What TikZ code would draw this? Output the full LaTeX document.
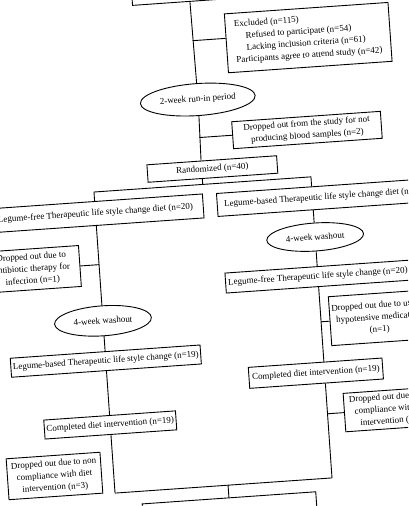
\documentclass[tikz,border=0pt]{standalone}
\usepackage{fontspec}
\setmainfont{Liberation Serif}
\usetikzlibrary{shapes.geometric}

\begin{document}
\begin{tikzpicture}[
      x=1pt, y=1pt,
      box/.style={draw, line width=0.9pt, align=center, inner sep=2pt,
                  font=\fontsize{9}{12}\selectfont},
      oval/.style={box, ellipse, inner sep=0pt, minimum width=97pt, minimum height=30pt},
      drop/.style={box, minimum width=96pt, minimum height=41pt},
      ln/.style={line width=0.9pt}]
    \useasboundingbox (-204,-253) rectangle (204,253);
    \clip (-204,-253) rectangle (204,253);
    \begin{scope}[rotate=4, transform shape]
    % columns (main x=3.5, left x=-105.5, right x=112)
    \coordinate (m) at (3.5,0);
    \coordinate (sp) at (3.5,68.5);
    \coordinate (rleg) at (112,68.5);
    \coordinate (j1) at (3.5,212.6);
    \coordinate (lb) at (-105.5,-233.3);
    \coordinate (rb) at (112,-233.3);
    \coordinate (mb) at (7.8,-233.3);
    % enrolment
    \node[box, minimum width=134pt, minimum height=20pt] (assess) at (13,262) {};
    \node[box, align=left, minimum width=164pt, minimum height=59pt, inner xsep=8pt] (excl) at (119,207.6)
      {Excluded (n=115)\\\hspace*{11pt}Refused to participate (n=54)\\
       \hspace*{11pt}Lacking inclusion criteria (n=61)\\Participants agree to attend study (n=42)};
    \node[oval, minimum width=115pt, minimum height=32pt] (runin) at (4.5,153.5) {2-week run-in period};
    \node[box, minimum width=149pt, minimum height=27pt] (drop1) at (111.3,115.5)
      {Dropped out from the study for not\\producing blood samples (n=2)};
    \node[box, minimum width=130pt, minimum height=17.5pt] (rand) at (14.2,83.2) {Randomized (n=40)};
    % first period
    \node[box, minimum width=216pt, minimum height=24pt] (lfree) at (-105.5,47) {Legume-free Therapeutic life style change diet (n=20)};
    \node[box, minimum width=216pt, minimum height=23pt] (lbased) at (124.6,47) {Legume-based Therapeutic life style change diet (n=20)};
    \node[drop] (drop2) at (-172.7,-4.3) {Dropped out due to\\antibiotic therapy for\\infection (n=1)};
    \node[oval] (wash1) at (-105.5,-60.6) {4-week washout};
    \node[oval, minimum height=28pt] (wash2) at (112,8.2) {4-week washout};
    % second period
    \node[box, minimum width=187pt, minimum height=19pt] (lbased2) at (-105.5,-101) {Legume-based Therapeutic life style change (n=19)};
    \node[box, minimum width=185pt, minimum height=20pt] (rfree) at (112,-31.5) {Legume-free Therapeutic life style change (n=20)};
    \node[box, minimum width=98pt, minimum height=49pt] (drop3) at (170,-76.8) {Dropped out due to use of\\hypotensive medication\\(n=1)};
    \node[box, minimum width=132pt, minimum height=19pt] (lcomp) at (-105.5,-165) {Completed diet intervention (n=19)};
    \node[box, minimum width=134pt, minimum height=21pt] (rcomp) at (103.2,-127.7) {Completed diet intervention (n=19)};
    \node[drop, minimum height=38.5pt] (drop4) at (177,-169) {Dropped out due to non\\compliance with diet\\intervention (n=4)};
    \node[drop, minimum width=94pt] (drop5) at (-164.7,-212) {Dropped out due to non\\compliance with diet\\intervention (n=3)};
    \node[box, minimum width=174pt, minimum height=20pt] (final) at (7.8,-256) {};
    % main line
    \draw[ln] (m |- assess.south) -- (runin.north);
    \draw[ln] (j1) -- (j1 -| excl.west);
    \draw[ln] (runin.south) -- (m |- rand.north);
    \draw[ln] (m |- drop1.west) -- (drop1.west);
    \draw[ln] (m |- rand.south) -- (sp);
    \draw[ln] (sp) -| (lfree.north);
    \draw[ln] (sp) -| (rleg |- lbased.north);
    % left arm
    \draw[ln] (lfree.south) -- (wash1.north);
    \draw[ln] (lfree.south |- drop2.east) -- (drop2.east);
    \draw[ln] (wash1.south) -- (lbased2.north);
    \draw[ln] (lbased2.south) -- (lcomp.north);
    \draw[ln] (lcomp.south) -- (lb);
    % right arm
    \draw[ln] (rleg |- lbased.south) -- (wash2.north);
    \draw[ln] (wash2.south) -- (rfree.north);
    \draw[ln] (rfree.south) -- (rfree.south |- rcomp.north);
    \draw[ln] (rfree.south |- drop3.west) -- (drop3.west);
    \draw[ln] (rfree.south |- rcomp.south) -- (rb);
    \draw[ln] (rb |- drop4.west) -- (drop4.west);
    % merge
    \draw[ln] (lb) -- (rb);
    \draw[ln] (mb) -- (final.north);
    \end{scope}
\end{tikzpicture}
\end{document}
